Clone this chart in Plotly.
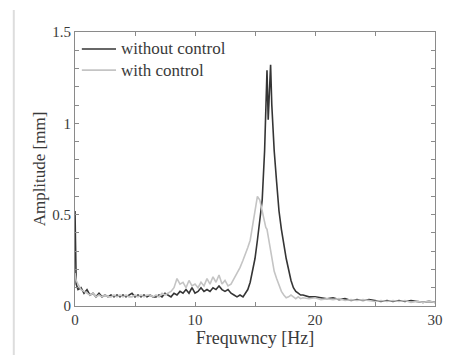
import plotly.graph_objects as go

freq = [0, 0.1, 0.25, 0.5, 0.75, 1.0, 1.25, 1.5, 1.75, 2.0, 2.25, 2.5, 2.75, 3.0, 3.25, 3.5, 3.75,
        4.0, 4.25, 4.5, 4.75, 5.0, 5.25, 5.5, 5.75, 6.0, 6.25, 6.5, 6.75, 7.0, 7.25, 7.5, 7.75,
        8.0, 8.25, 8.5, 8.75, 9.0, 9.25, 9.5, 9.75, 10.0, 10.25, 10.5, 10.75, 11.0, 11.25, 11.5, 11.75,
        12.0, 12.25, 12.5, 12.75, 13.0, 13.25, 13.5, 13.75, 14.0,
        14.2, 14.4, 14.6, 14.8, 15.0, 15.2, 15.4, 15.6, 15.8, 15.9, 16.0, 16.1, 16.2, 16.3, 16.4,
        16.5, 16.6, 16.8, 17.0, 17.2, 17.4, 17.6, 17.8, 18.0, 18.2, 18.4, 18.6, 18.8, 19.0,
        19.5, 20.0, 20.5, 21.0, 21.5, 22.0, 22.5, 23.0, 23.5, 24.0, 24.5, 25.0, 25.5, 26.0,
        26.5, 27.0, 27.5, 28.0, 28.5, 29.0, 29.5, 30.0]

without_control = [0.52, 0.12, 0.09, 0.10, 0.07, 0.09, 0.06, 0.07, 0.05, 0.07, 0.05, 0.06, 0.05, 0.06, 0.05, 0.06, 0.05,
                   0.06, 0.05, 0.06, 0.07, 0.05, 0.06, 0.05, 0.06, 0.05, 0.06, 0.05, 0.05, 0.06, 0.05, 0.07, 0.06,
                   0.05, 0.07, 0.06, 0.08, 0.07, 0.09, 0.07, 0.10, 0.07, 0.08, 0.10, 0.08, 0.09, 0.08, 0.10, 0.09,
                   0.11, 0.09, 0.08, 0.09, 0.07, 0.06, 0.05, 0.06, 0.05,
                   0.07, 0.09, 0.13, 0.19, 0.26, 0.36, 0.48, 0.58, 0.85, 1.15, 1.29, 1.02, 1.20, 1.32, 1.10,
                   0.95, 0.85, 0.68, 0.52, 0.42, 0.33, 0.26, 0.20, 0.14, 0.10, 0.08, 0.07, 0.06, 0.06,
                   0.05, 0.05, 0.045, 0.04, 0.045, 0.035, 0.04, 0.03, 0.035, 0.03, 0.035, 0.03, 0.025, 0.03,
                   0.025, 0.03, 0.025, 0.03, 0.025, 0.02, 0.025, 0.02]

with_control = [0.18, 0.14, 0.12, 0.09, 0.08, 0.07, 0.06, 0.07, 0.05, 0.06, 0.05, 0.06, 0.05, 0.05, 0.06, 0.05, 0.06,
                0.05, 0.06, 0.05, 0.05, 0.06, 0.05, 0.06, 0.05, 0.06, 0.06, 0.05, 0.06, 0.05, 0.07, 0.06, 0.07,
                0.08, 0.10, 0.15, 0.12, 0.13, 0.10, 0.14, 0.11, 0.12, 0.10, 0.13, 0.11, 0.15, 0.12, 0.16, 0.13,
                0.17, 0.12, 0.14, 0.11, 0.12, 0.15, 0.18, 0.21, 0.25,
                0.28, 0.32, 0.36, 0.44, 0.53, 0.60, 0.58, 0.52, 0.46, 0.43, 0.42, 0.38, 0.33, 0.29, 0.25,
                0.22, 0.19, 0.15, 0.11, 0.08, 0.06, 0.045, 0.05, 0.06, 0.05, 0.04, 0.05, 0.04, 0.045,
                0.04, 0.045, 0.035, 0.04, 0.035, 0.04, 0.03, 0.035, 0.03, 0.035, 0.03, 0.025, 0.03, 0.025,
                0.03, 0.025, 0.03, 0.02, 0.025, 0.02, 0.025, 0.02]

series_names = ["without control", "with control"]
series_colors = ["#353535", "#c4c4c4"]

x_ticks = [0, 5, 10, 15, 20, 25, 30]
x_labels = ["0", "", "10", "", "20", "", "30"]
y_ticks = [round(i * 0.1, 1) for i in range(16)]
y_labels = {0.0: "0", 0.5: "0.5", 1.0: "1", 1.5: "1.5"}

FONT = "Liberation Serif"
TXT = "#3a3a3a"

fig = go.Figure()
for name, ys, col in zip(series_names, [without_control, with_control], series_colors):
    fig.add_trace(go.Scatter(x=freq, y=ys, mode="lines", name=name, showlegend=False,
                             line=dict(color=col, width=1.6)))

axis_common = dict(showgrid=False, zeroline=False, showline=True, linecolor="#8a8a8a", linewidth=1.2,
                   mirror="ticks", ticks="inside", ticklen=4, tickcolor="#8a8a8a",
                   tickfont=dict(family=FONT, size=15, color=TXT))

fig.update_xaxes(range=[0, 30], tickmode="array", tickvals=x_ticks, ticktext=x_labels,
                 title=dict(text="Frequwncy [Hz]", font=dict(family=FONT, size=18, color=TXT), standoff=0),
                 **axis_common)
fig.update_yaxes(range=[0, 1.5], tickmode="array", tickvals=y_ticks,
                 ticktext=[y_labels.get(v, "") for v in y_ticks],
                 title=dict(text="Amplitude [mm]", font=dict(family=FONT, size=17, color=TXT), standoff=2),
                 **axis_common)

shapes = [dict(type="line", xref="paper", yref="paper", x0=-0.17, x1=-0.17, y0=-0.2, y1=1.08,
               line=dict(color="#dddddd", width=2))]
annotations = []

# Legend drawn manually (tighter spacing, as in the reference)
leg_y = [0.938, 0.861]
for name, col, yy in zip(series_names, series_colors, leg_y):
    shapes.append(dict(type="line", xref="paper", yref="paper", x0=0.019, x1=0.114, y0=yy, y1=yy,
                       line=dict(color=col, width=1.6)))
    annotations.append(dict(xref="paper", yref="paper", x=0.125, y=yy, xanchor="left", yanchor="middle",
                            text=name, showarrow=False, borderpad=0,
                            font=dict(family=FONT, size=17, color=TXT)))

fig.update_layout(
    width=455, height=355,
    margin=dict(l=75, r=13, t=32, b=49),
    paper_bgcolor="white", plot_bgcolor="white",
    showlegend=False,
    shapes=shapes,
    annotations=annotations,
)

fig.write_html("out.html")
